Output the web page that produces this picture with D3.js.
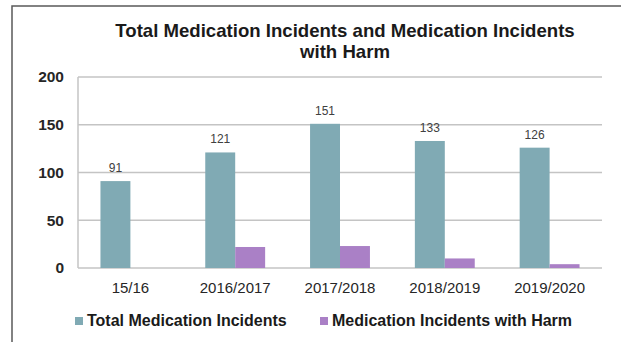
<!DOCTYPE html>
<html>
<head>
<meta charset="utf-8">
<script src="https://cdn.jsdelivr.net/npm/d3@7"></script>
<style>
  html, body { margin: 0; padding: 0; background: #fff; }
  svg { display: block; }
  text { font-family: "Liberation Sans", Arial, sans-serif; }
</style>
</head>
<body>
<svg id="chart" width="621" height="342"></svg>
<script>
const categories = ["15/16", "2016/2017", "2017/2018", "2018/2019", "2019/2020"];
const totalIncidents = [91, 121, 151, 133, 126];
const harmIncidents = [0, 22, 23, 10, 4];
const seriesNames = ["Total Medication Incidents", "Medication Incidents with Harm"];
const seriesColors = ["#80aab4", "#aa80c6"];
const yTicks = [0, 50, 100, 150, 200];
const titleLines = ["Total Medication Incidents and Medication Incidents", "with Harm"];

const svg = d3.select("#chart");
const W = 621, H = 342;
const plot = { left: 78, right: 602, top: 77, bottom: 268 };

// frame
svg.append("path")
  .attr("d", `M12,${H + 2} L12,6 L${W + 2},6`)
  .attr("fill", "none").attr("stroke", "#5a5a5a").attr("stroke-width", 1.5);

const x = d3.scaleBand().domain(categories).range([plot.left, plot.right]).paddingInner(0).paddingOuter(0);
const inner = d3.scaleBand().domain([0, 1]).range([0, x.bandwidth()]).paddingOuter(0.75).paddingInner(0);
const y = d3.scaleLinear().domain([0, 200]).range([plot.bottom, plot.top]);

// gridlines
svg.append("g").selectAll("line").data(yTicks).join("line")
  .attr("x1", plot.left).attr("x2", plot.right)
  .attr("y1", d => y(d)).attr("y2", d => y(d))
  .attr("stroke", "#c4c4c4").attr("stroke-width", 1.5);
// y axis line
svg.append("line").attr("x1", plot.left).attr("x2", plot.left)
  .attr("y1", plot.top).attr("y2", plot.bottom)
  .attr("stroke", "#c4c4c4").attr("stroke-width", 1.5);

// y labels
const yAxis = d3.axisLeft(y).tickValues(yTicks).tickSize(0).tickPadding(14);
const yg = svg.append("g").attr("transform", `translate(${plot.left},0)`).call(yAxis);
yg.select(".domain").remove();
yg.selectAll("text").attr("font-size", 15.5).attr("font-weight", "bold").attr("fill", "#262626")
  .attr("font-family", "Liberation Sans, Arial, sans-serif");

// x labels
const xAxis = d3.axisBottom(x).tickSize(0).tickPadding(14);
const xg = svg.append("g").attr("transform", `translate(0,${plot.bottom})`).call(xAxis);
xg.select(".domain").remove();
xg.selectAll("text").attr("font-size", 15).attr("fill", "#262626")
  .attr("font-family", "Liberation Sans, Arial, sans-serif");

// bars
const series = [totalIncidents, harmIncidents];
series.forEach((vals, si) => {
  svg.append("g").selectAll("rect").data(vals.map((v, i) => ({ v, c: categories[i] }))).join("rect")
    .attr("x", d => x(d.c) + inner(si))
    .attr("width", inner.bandwidth())
    .attr("y", d => y(d.v))
    .attr("height", d => y(0) - y(d.v))
    .attr("fill", seriesColors[si]);
});

// value labels on total series
svg.append("g").selectAll("text").data(totalIncidents.map((v, i) => ({ v, c: categories[i] }))).join("text")
  .attr("x", d => x(d.c) + inner(0) + inner.bandwidth() / 2)
  .attr("y", d => y(d.v) - 9)
  .attr("text-anchor", "middle")
  .attr("font-size", 12).attr("fill", "#404040")
  .text(d => d.v);

// title
svg.append("g").selectAll("text").data(titleLines).join("text")
  .attr("x", 345).attr("y", (d, i) => 37 + i * 21)
  .attr("text-anchor", "middle")
  .attr("font-size", 18.6).attr("font-weight", "bold").attr("fill", "#1a1a1a")
  .text(d => d);

// legend
const legendX = [75, 320];
const lg = svg.append("g");
seriesNames.forEach((name, i) => {
  lg.append("rect").attr("x", legendX[i]).attr("y", 317).attr("width", 8).attr("height", 8)
    .attr("fill", seriesColors[i]);
  lg.append("text").attr("x", legendX[i] + 12).attr("y", 326)
    .attr("font-size", 16).attr("font-weight", "bold").attr("fill", "#1a1a1a")
    .text(name);
});
</script>
</body>
</html>
